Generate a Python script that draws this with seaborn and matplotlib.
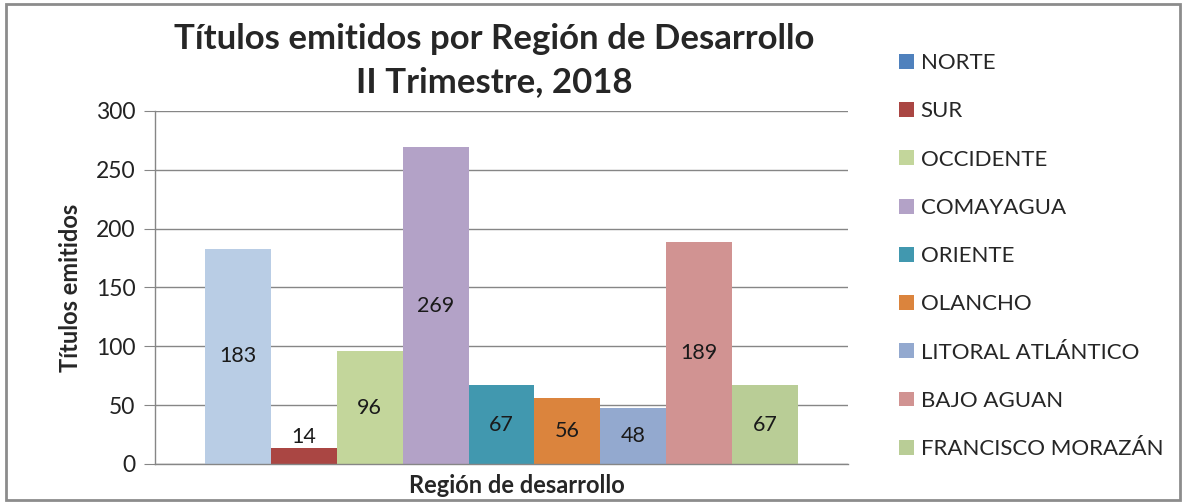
import pandas as pd
import seaborn as sns
import matplotlib.pyplot as plt
from matplotlib.patches import Patch, Rectangle

regiones = ["NORTE", "SUR", "OCCIDENTE", "COMAYAGUA", "ORIENTE", "OLANCHO",
            "LITORAL ATLÁNTICO", "BAJO AGUAN", "FRANCISCO MORAZÁN"]
titulos = [183, 14, 96, 269, 67, 56, 48, 189, 67]
colores_barra = ["#B9CDE5", "#AA4643", "#C3D69B", "#B3A2C7", "#4198AF",
                 "#DB843D", "#93A9CF", "#D19392", "#B9CD96"]
colores_leyenda = ["#4F81BD", "#AA4643", "#C3D69B", "#B3A2C7", "#4198AF",
                   "#DB843D", "#93A9CF", "#D19392", "#B9CD96"]
yticks = [0, 50, 100, 150, 200, 250, 300]

df = pd.DataFrame({"grupo": "Región de desarrollo", "region": regiones, "titulos": titulos})

sns.set_style("white")
plt.rcParams["font.family"] = ["Lato", "DejaVu Sans"]

fig = plt.figure(figsize=(11.86, 5.04), dpi=100)
ax = fig.add_axes([0.1307, 0.0794, 0.5843, 0.7004])

sns.barplot(data=df, x="grupo", y="titulos", hue="region", hue_order=regiones,
            palette=colores_barra, saturation=1, width=0.856, linewidth=0,
            legend=False, ax=ax)

# etiquetas de datos
for cont in ax.containers:
    for bar in cont:
        v = bar.get_height()
        ypos = v / 2 if v > 30 else v + 9
        ax.text(bar.get_x() + bar.get_width() / 2, ypos, f"{v:.0f}",
                ha="center", va="center", fontsize=15.5, color="#1a1a1a")

gris = "#868686"
ax.set_ylim(0, 300)
ax.set_xlim(-0.5, 0.5)
ax.set_yticks(yticks)
ax.set_xticks([])
ax.yaxis.grid(True, color=gris, linewidth=1)
ax.set_axisbelow(True)
for s in ["top", "right"]:
    ax.spines[s].set_visible(False)
for s in ["left", "bottom"]:
    ax.spines[s].set_color(gris)
    ax.spines[s].set_linewidth(1)
ax.tick_params(axis="y", left=True, length=8, color=gris, labelsize=16.5, pad=6, labelcolor="#222222")

ax.set_ylabel("Títulos emitidos", fontsize=17, fontweight="bold", va="center")
ax.yaxis.set_label_coords(-0.122, 0.5)
ax.set_xlabel("Región de desarrollo", fontsize=17, fontweight="bold", va="center")
ax.xaxis.set_label_coords(0.522, -0.062)

fig.text(0.417, 0.88, "Títulos emitidos por Región de Desarrollo\nII Trimestre, 2018",
         ha="center", va="center", fontsize=25, fontweight="bold", linespacing=1.4)

handles = [Patch(facecolor=c, edgecolor="none") for c in colores_leyenda]
fig.legend(handles, regiones, loc="upper left", bbox_to_anchor=(0.7415, 0.934),
           frameon=False, fontsize=16, handlelength=0.65, handleheight=0.65,
           handletextpad=0.3, labelspacing=1.27)

fig.patches.append(Rectangle((0.005, 0.008), 0.99, 0.985, transform=fig.transFigure,
                             fill=False, edgecolor="#8c8c8c", linewidth=2))

fig.savefig("out.png", dpi=100)
